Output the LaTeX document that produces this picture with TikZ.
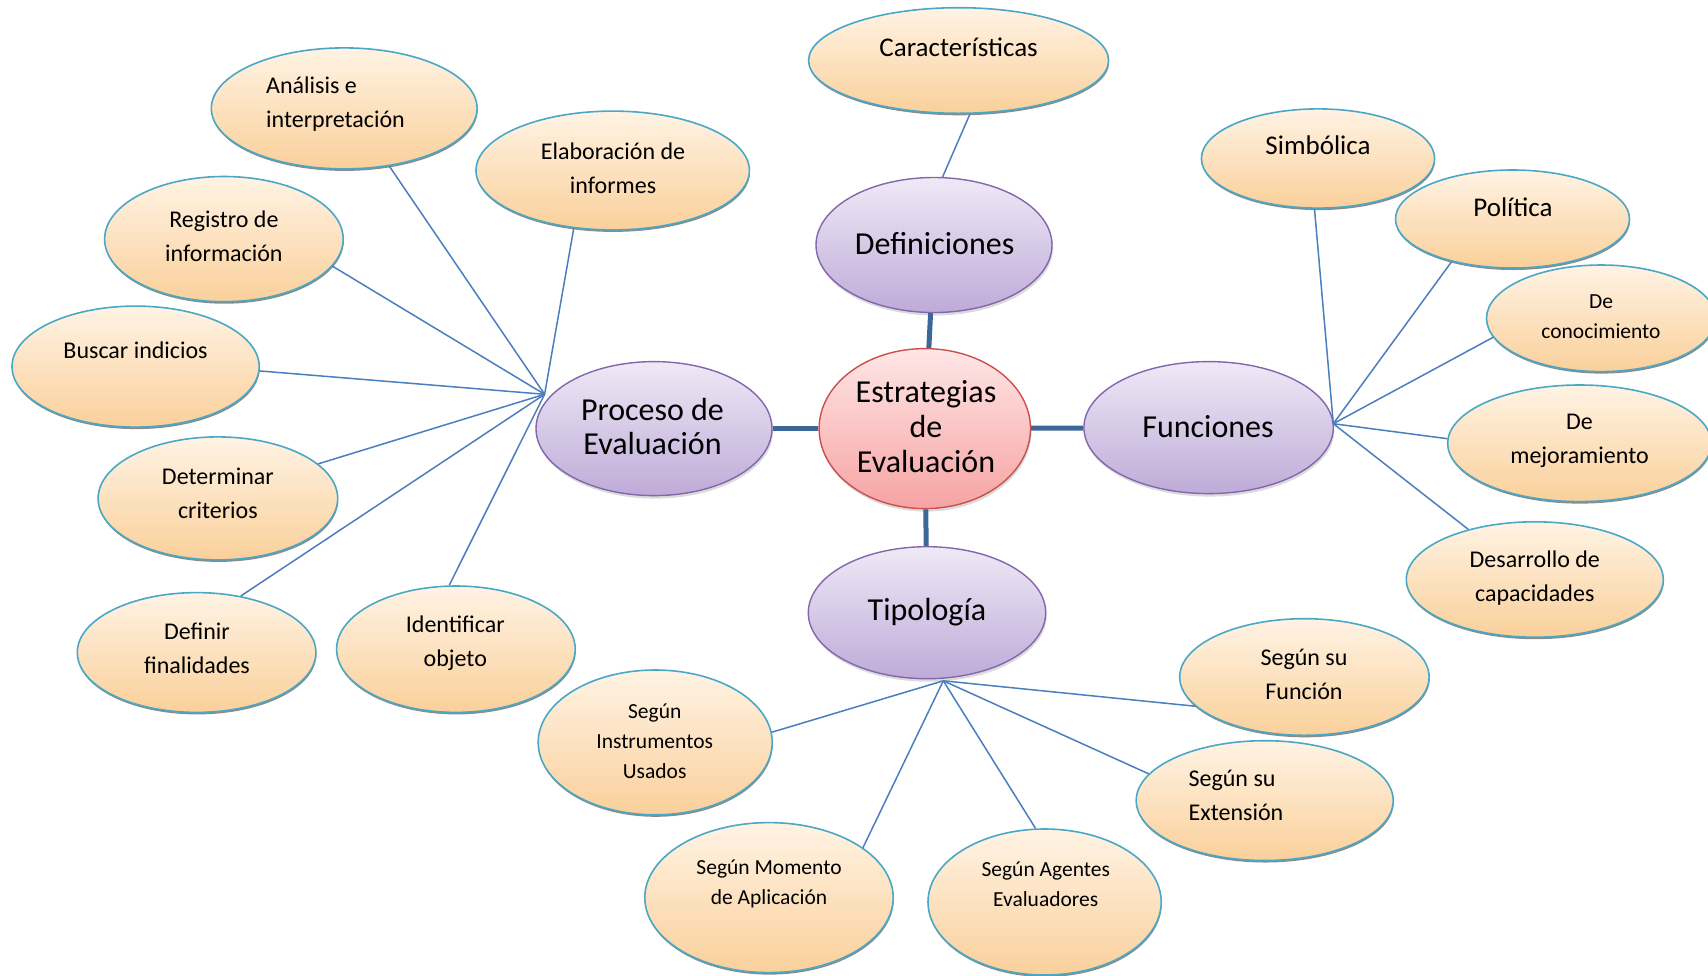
\documentclass[tikz,border=0pt]{standalone}
\usepackage{fontspec}
\setmainfont{Carlito}
\usetikzlibrary{shapes.geometric,shadows}
\definecolor{leaftop}{HTML}{FFF3E4}
\definecolor{leafbot}{HTML}{FAD09B}
\definecolor{leafborder}{HTML}{4AA8C6}
\definecolor{purptop}{HTML}{EFE9F6}
\definecolor{purpbot}{HTML}{BEABD8}
\definecolor{purpborder}{HTML}{8466AC}
\definecolor{centop}{HTML}{FFE6E6}
\definecolor{cenbot}{HTML}{F6A3A3}
\definecolor{cenborder}{HTML}{CC4F4F}
\definecolor{thinline}{HTML}{4A7EBE}
\definecolor{thickline}{HTML}{3D6796}
\tikzset{
  leaf/.style={ellipse, draw=leafborder, line width=1.6pt, top color=leaftop, bottom color=leafbot, inner sep=0pt,
    drop shadow={shadow xshift=0.5pt, shadow yshift=-2pt, fill=black!65, opacity=0.7}},
  purp/.style={ellipse, draw=purpborder, line width=1.4pt, top color=purptop, bottom color=purpbot, inner sep=0pt,
    drop shadow={shadow xshift=1pt, shadow yshift=-3pt, fill=black!40, opacity=0.35}},
  cen/.style={ellipse, draw=cenborder, line width=1.4pt, top color=centop, bottom color=cenbot, inner sep=0pt,
    drop shadow={shadow xshift=1pt, shadow yshift=-3pt, fill=black!40, opacity=0.35}},
  lbig/.style={align=center, inner sep=0pt, font=\fontsize{24}{34}\selectfont},
  lone/.style={align=center, inner sep=0pt, font=\fontsize{27}{34}\selectfont},
  lsmall/.style={align=center, inner sep=0pt, font=\fontsize{21.5}{30}\selectfont},
  lpurp/.style={align=center, inner sep=0pt, font=\fontsize{32}{34}\selectfont},
  thin/.style={draw=thinline, line width=1.5pt},
  thick/.style={draw=thickline, line width=5pt},
}
\begin{document}
\begin{tikzpicture}[x=1pt,y=-1pt]
\useasboundingbox (0,0) rectangle (1708,975);
% leaves
\node[leaf, minimum width=300pt, minimum height=105.6pt] (car) at (958.6,60.5) {};
\node[leaf, minimum width=265.8pt, minimum height=121pt] (ana) at (344.2,108.4) {};
\node[leaf, minimum width=273.4pt, minimum height=118.8pt] (ela) at (612.7,170.5) {};
\node[leaf, minimum width=238.6pt, minimum height=125.2pt] (reg) at (223.9,239.1) {};
\node[leaf, minimum width=247.2pt, minimum height=121pt] (bus) at (135.6,366.6) {};
\node[leaf, minimum width=239.6pt, minimum height=123pt] (det) at (217.9,498.4) {};
\node[leaf, minimum width=238.6pt, minimum height=119.8pt] (dfi) at (196.6,652.5) {};
\node[leaf, minimum width=238.6pt, minimum height=126.4pt] (ide) at (455.9,649.2) {};
\node[leaf, minimum width=233.2pt, minimum height=99.2pt] (sim) at (1318,158.5) {};
\node[leaf, minimum width=234pt, minimum height=98pt] (pol) at (1512.5,219) {};
\node[leaf, minimum width=229pt, minimum height=106.6pt] (con) at (1601,318.3) {};
\node[leaf, minimum width=263.6pt, minimum height=116.6pt] (mej) at (1579.5,443.3) {};
\node[leaf, minimum width=257pt, minimum height=115.4pt] (des) at (1534.8,579.5) {};
\node[leaf, minimum width=249.4pt, minimum height=116.6pt] (fun) at (1304.4,677) {};
\node[leaf, minimum width=257pt, minimum height=119.8pt] (ext) at (1264.7,800.6) {};
\node[leaf, minimum width=234pt, minimum height=144.8pt] (ins) at (655.2,742.4) {};
\node[leaf, minimum width=248.4pt, minimum height=150pt] (mom) at (769,897.6) {};
\node[leaf, minimum width=233.2pt, minimum height=146pt] (age) at (1044.6,902) {};
% main nodes
\node[purp, minimum width=236pt, minimum height=135pt] (def) at (934,245) {};
\node[purp, minimum width=236pt, minimum height=134pt] (pro) at (654,428.6) {};
\node[purp, minimum width=249.4pt, minimum height=132pt] (fnc) at (1208.6,427.6) {};
\node[purp, minimum width=237.4pt, minimum height=132pt] (tip) at (927,612.7) {};
\node[cen, minimum width=211.4pt, minimum height=160pt] (ctr) at (924.8,428.6) {};
% thick connectors
\draw[thick] (ctr) -- (def);
\draw[thick] (ctr) -- (pro);
\draw[thick] (ctr) -- (fnc);
\draw[thick] (ctr) -- (tip);
% hubs
\coordinate (hubP) at (544.6,394.3);
\coordinate (hubF) at (1333.3,423.7);
\coordinate (hubT) at (943.3,680.8);
\coordinate (hubD) at (942.3,177.6);
% thin connectors
\draw[thin] (hubD) -- (car.282);
\draw[thin] (hubP) -- (ana.308);
\draw[thin] (hubP) -- (ela.236);
\draw[thin] (hubP) -- (reg.346.5);
\draw[thin] (hubP) -- (bus.358);
\draw[thin] (hubP) -- (det.19);
\draw[thin] (hubP) -- (dfi.52);
\draw[thin] (hubP) -- (ide.96);
\draw[thin] (hubF) -- (sim.266);
\draw[thin] (hubF) -- (pol.215);
\draw[thin] (hubF) -- (con.190);
\draw[thin] (hubF) -- (mej.178);
\draw[thin] (hubF) -- (des.143);
\draw[thin] (hubT) -- (fun.195);
\draw[thin] (hubT) -- (ext.167);
\draw[thin] (hubT) -- (ins.5);
\draw[thin] (hubT) -- (mom.28);
\draw[thin] (hubT) -- (age.97);
% labels
\node[lone] (tcar) at (958.6,46.8) {Características};
\node[lbig, align=left] (tana) at (335.5,104) {Análisis e\\interpretación};
\node[lbig] (tela) at (613,168.3) {Elaboración de\\informes};
\node[lbig] (treg) at (223.9,236) {Registro de\\información};
\node[lbig] (tbus) at (135.6,350) {Buscar indicios};
\node[lbig] (tdet) at (217.9,493.4) {Determinar\\criterios};
\node[lbig] (tdfi) at (197,648.7) {Definir\\finalidades};
\node[lbig] (tide) at (455.3,643.2) {Identificar\\objeto};
\node[lone] (tsim) at (1318,145) {Simbólica};
\node[lone] (tpol) at (1513,207) {Política};
\node[lsmall] (tcon) at (1601,316.4) {De\\conocimiento};
\node[lbig] (tmej) at (1579.5,440.6) {De\\mejoramiento};
\node[lbig] (tdes) at (1534.8,578.4) {Desarrollo de\\capacidades};
\node[lbig] (tfun) at (1304,674.8) {Según su\\Función};
\node[lbig, align=left, anchor=west] (text) at (1188.4,795.7) {Según su\\Extensión};
\node[lsmall] (tins) at (654.7,741.3) {Según\\Instrumentos\\Usados};
\node[lsmall] (tmom) at (769,883.4) {Según Momento\\de Aplicación};
\node[lsmall] (tage) at (1045.7,884) {Según Agentes\\Evaluadores};
\node[lpurp] (tdef) at (934.6,244) {Definiciones};
\node[lpurp] (tpro) at (652.5,426.5) {Proceso de\\Evaluación};
\node[lpurp] (tfnc) at (1208,427) {Funciones};
\node[lpurp] (ttip) at (927,612.2) {Tipología};
\node[lpurp, font=\fontsize{32}{35}\selectfont] (tctr) at (926,427) {Estrategias\\de\\Evaluación};
\end{tikzpicture}
\end{document}
